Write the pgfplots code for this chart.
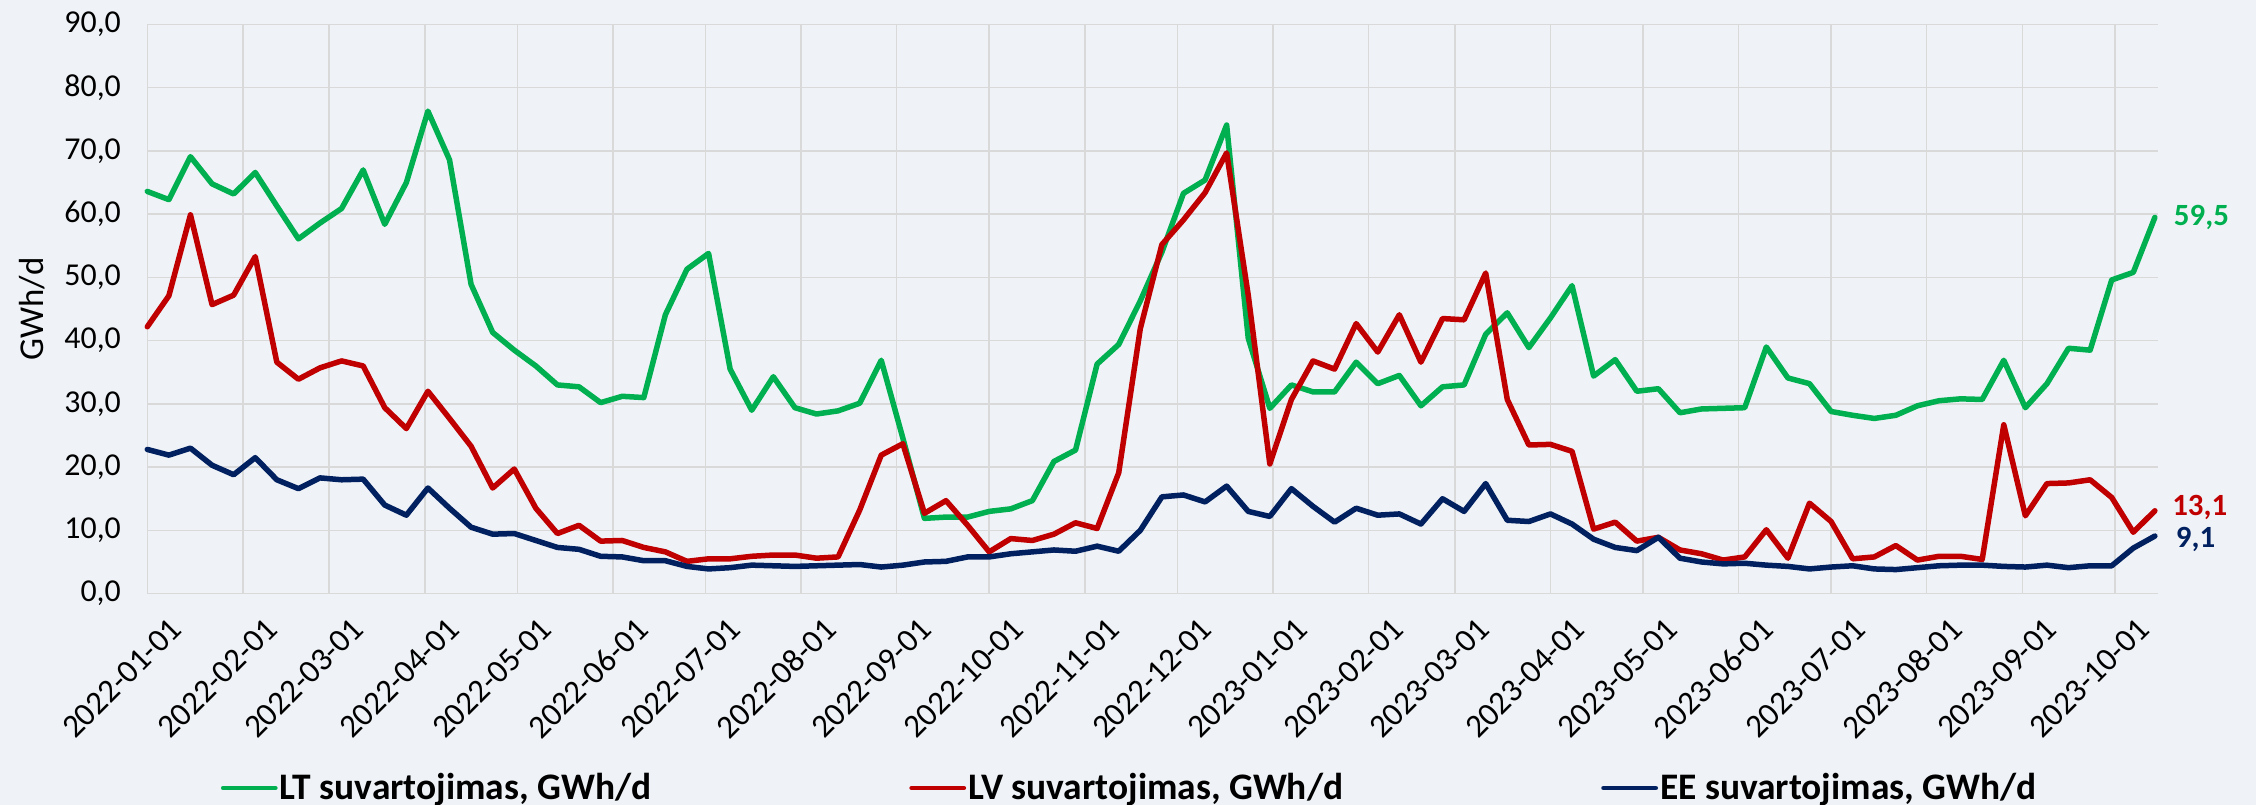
\documentclass[border=0pt]{standalone}
\usepackage{fontspec}
\setmainfont{Carlito}
\usepackage{pgfplots}
\pgfplotsset{compat=1.18}
\usepackage{pgfplotstable}
\definecolor{bg}{HTML}{EFF3F7}
\definecolor{ltg}{HTML}{00B050}
\definecolor{lvr}{HTML}{C00000}
\definecolor{een}{HTML}{002060}
\definecolor{gridc}{HTML}{D9D9D9}

\pgfplotstableread{
x lt lv ee
0 63.6 42.2 22.8
7 62.3 47.1 21.9
14 69.1 59.9 23.0
21 64.8 45.7 20.3
28 63.2 47.2 18.8
35 66.6 53.3 21.5
42 61.3 36.6 18.0
49 56.1 33.9 16.6
56 58.6 35.7 18.3
63 60.9 36.8 18.0
70 67.0 36.0 18.1
77 58.4 29.4 14.0
84 65.0 26.1 12.4
91 76.3 32.0 16.7
98 68.6 27.7 13.5
105 48.9 23.3 10.5
112 41.3 16.7 9.4
119 38.5 19.7 9.5
126 36.0 13.5 8.4
133 33.0 9.5 7.3
140 32.7 10.8 7.0
147 30.2 8.3 5.9
154 31.2 8.4 5.8
161 31.0 7.3 5.2
168 44.1 6.6 5.2
175 51.3 5.1 4.3
182 53.8 5.5 3.9
189 35.5 5.5 4.1
196 29.0 5.9 4.5
203 34.3 6.1 4.4
210 29.4 6.1 4.3
217 28.4 5.6 4.4
224 28.9 5.8 4.5
231 30.1 13.2 4.6
238 36.9 21.9 4.2
245 24.6 23.7 4.5
252 11.9 12.7 5.0
259 12.1 14.7 5.1
266 12.1 10.8 5.8
273 13.0 6.6 5.8
280 13.4 8.7 6.3
287 14.7 8.4 6.6
294 20.9 9.4 6.9
301 22.7 11.2 6.7
308 36.3 10.3 7.5
315 39.4 19.1 6.7
322 46.3 41.9 10.0
329 54.0 55.2 15.3
336 63.3 59.1 15.6
343 65.4 63.4 14.5
350 74.1 69.7 17.0
357 40.4 47.2 13.0
364 29.3 20.5 12.2
371 33.0 30.7 16.6
378 31.9 36.8 13.8
385 31.9 35.5 11.3
392 36.6 42.7 13.5
399 33.2 38.2 12.4
406 34.5 44.1 12.6
413 29.7 36.6 11.0
420 32.7 43.5 15.0
427 33.0 43.3 13.0
434 41.0 50.7 17.4
441 44.4 30.7 11.6
448 38.9 23.5 11.4
455 43.6 23.6 12.6
462 48.7 22.5 11.0
469 34.4 10.2 8.6
476 37.0 11.3 7.3
483 32.0 8.3 6.8
490 32.4 8.9 8.9
497 28.6 6.9 5.6
504 29.2 6.3 5.0
511 29.3 5.3 4.7
518 29.4 5.8 4.8
525 39.0 10.1 4.5
532 34.1 5.6 4.3
539 33.2 14.3 3.9
546 28.8 11.4 4.2
553 28.2 5.5 4.4
560 27.7 5.8 3.9
567 28.2 7.6 3.8
574 29.7 5.3 4.1
581 30.5 5.9 4.4
588 30.8 5.9 4.5
595 30.7 5.4 4.5
602 36.9 26.7 4.3
609 29.4 12.3 4.2
616 33.2 17.4 4.5
623 38.8 17.5 4.1
630 38.5 18.0 4.4
637 49.6 15.2 4.4
644 50.8 9.7 7.2
651 59.5 13.1 9.1
}\datatable

\begin{document}
\begin{tikzpicture}
\path[fill=bg, use as bounding box] (-73.65bp,-105.7bp) rectangle (1054.35bp,296.8bp);
\begin{axis}[
  at={(0,0)}, anchor=south west,
  scale only axis, width=1005.35bp, height=284.55bp,
  xmin=0, xmax=652, ymin=0, ymax=90,
  clip=false,
  xtick={0,31,59,90,120,151,181,212,243,273,304,334,365,396,424,455,485,516,546,577,608,638},
  xticklabels={2022-01-01,2022-02-01,2022-03-01,2022-04-01,2022-05-01,2022-06-01,2022-07-01,2022-08-01,2022-09-01,2022-10-01,2022-11-01,2022-12-01,2023-01-01,2023-02-01,2023-03-01,2023-04-01,2023-05-01,2023-06-01,2023-07-01,2023-08-01,2023-09-01,2023-10-01},
  ytick={0,10,...,90},
  grid=major,
  major grid style={draw=gridc, line width=0.75bp},
  axis line style={draw=none},
  tick style={draw=none},
  /pgf/number format/use comma,
  /pgf/number format/fixed,
  /pgf/number format/fixed zerofill,
  /pgf/number format/precision=1,
  /pgf/number format/assume math mode=true,
  yticklabel style={font=\fontsize{16}{19}\selectfont, xshift=-9.7bp},
  xticklabel style={font=\fontsize{16.5}{19}\selectfont, rotate=45, anchor=north east, xshift=3bp, yshift=-12bp},
  ylabel={GWh/d},
  ylabel style={font=\fontsize{17.5}{20}\selectfont, at={(axis description cs:-0.0573,0.5)}, anchor=center},
  legend columns=3,
  legend style={at={(axis description cs:0.0364,-0.3416)}, anchor=west, draw=none, fill=none, inner sep=0pt,
    font=\bfseries\fontsize{18.8}{22}\selectfont,
    nodes={inner xsep=1bp, inner ysep=0bp},
    /tikz/every even column/.append style={column sep=128bp}},
  legend cell align=left,
  legend image code/.code={\draw[#1, line width=2.4bp, line cap=round] (0bp,0bp) -- (26bp,0bp);},
  every axis plot/.append style={line width=2.75bp, line join=round, line cap=round},
]
\addplot[ltg] table[x=x, y=lt] {\datatable};
\addlegendentry{LT suvartojimas, GWh/d}
\addplot[lvr] table[x=x, y=lv] {\datatable};
\addlegendentry{LV suvartojimas, GWh/d}
\addplot[een] table[x=x, y=ee] {\datatable};
\addlegendentry{EE suvartojimas, GWh/d}
\node[anchor=west, inner sep=0pt, text=ltg, font=\bfseries\fontsize{15.5}{18}\selectfont, xshift=9.35bp] at (axis cs:651,59.5) {59,5};
\node[anchor=west, inner sep=0pt, text=lvr, font=\bfseries\fontsize{15.5}{18}\selectfont, xshift=8.5bp, yshift=1.9bp] at (axis cs:651,13.1) {13,1};
\node[anchor=west, inner sep=0pt, text=een, font=\bfseries\fontsize{15.5}{18}\selectfont, xshift=10.3bp, yshift=-1.8bp] at (axis cs:651,9.1) {9,1};
\end{axis}
\end{tikzpicture}
\end{document}
